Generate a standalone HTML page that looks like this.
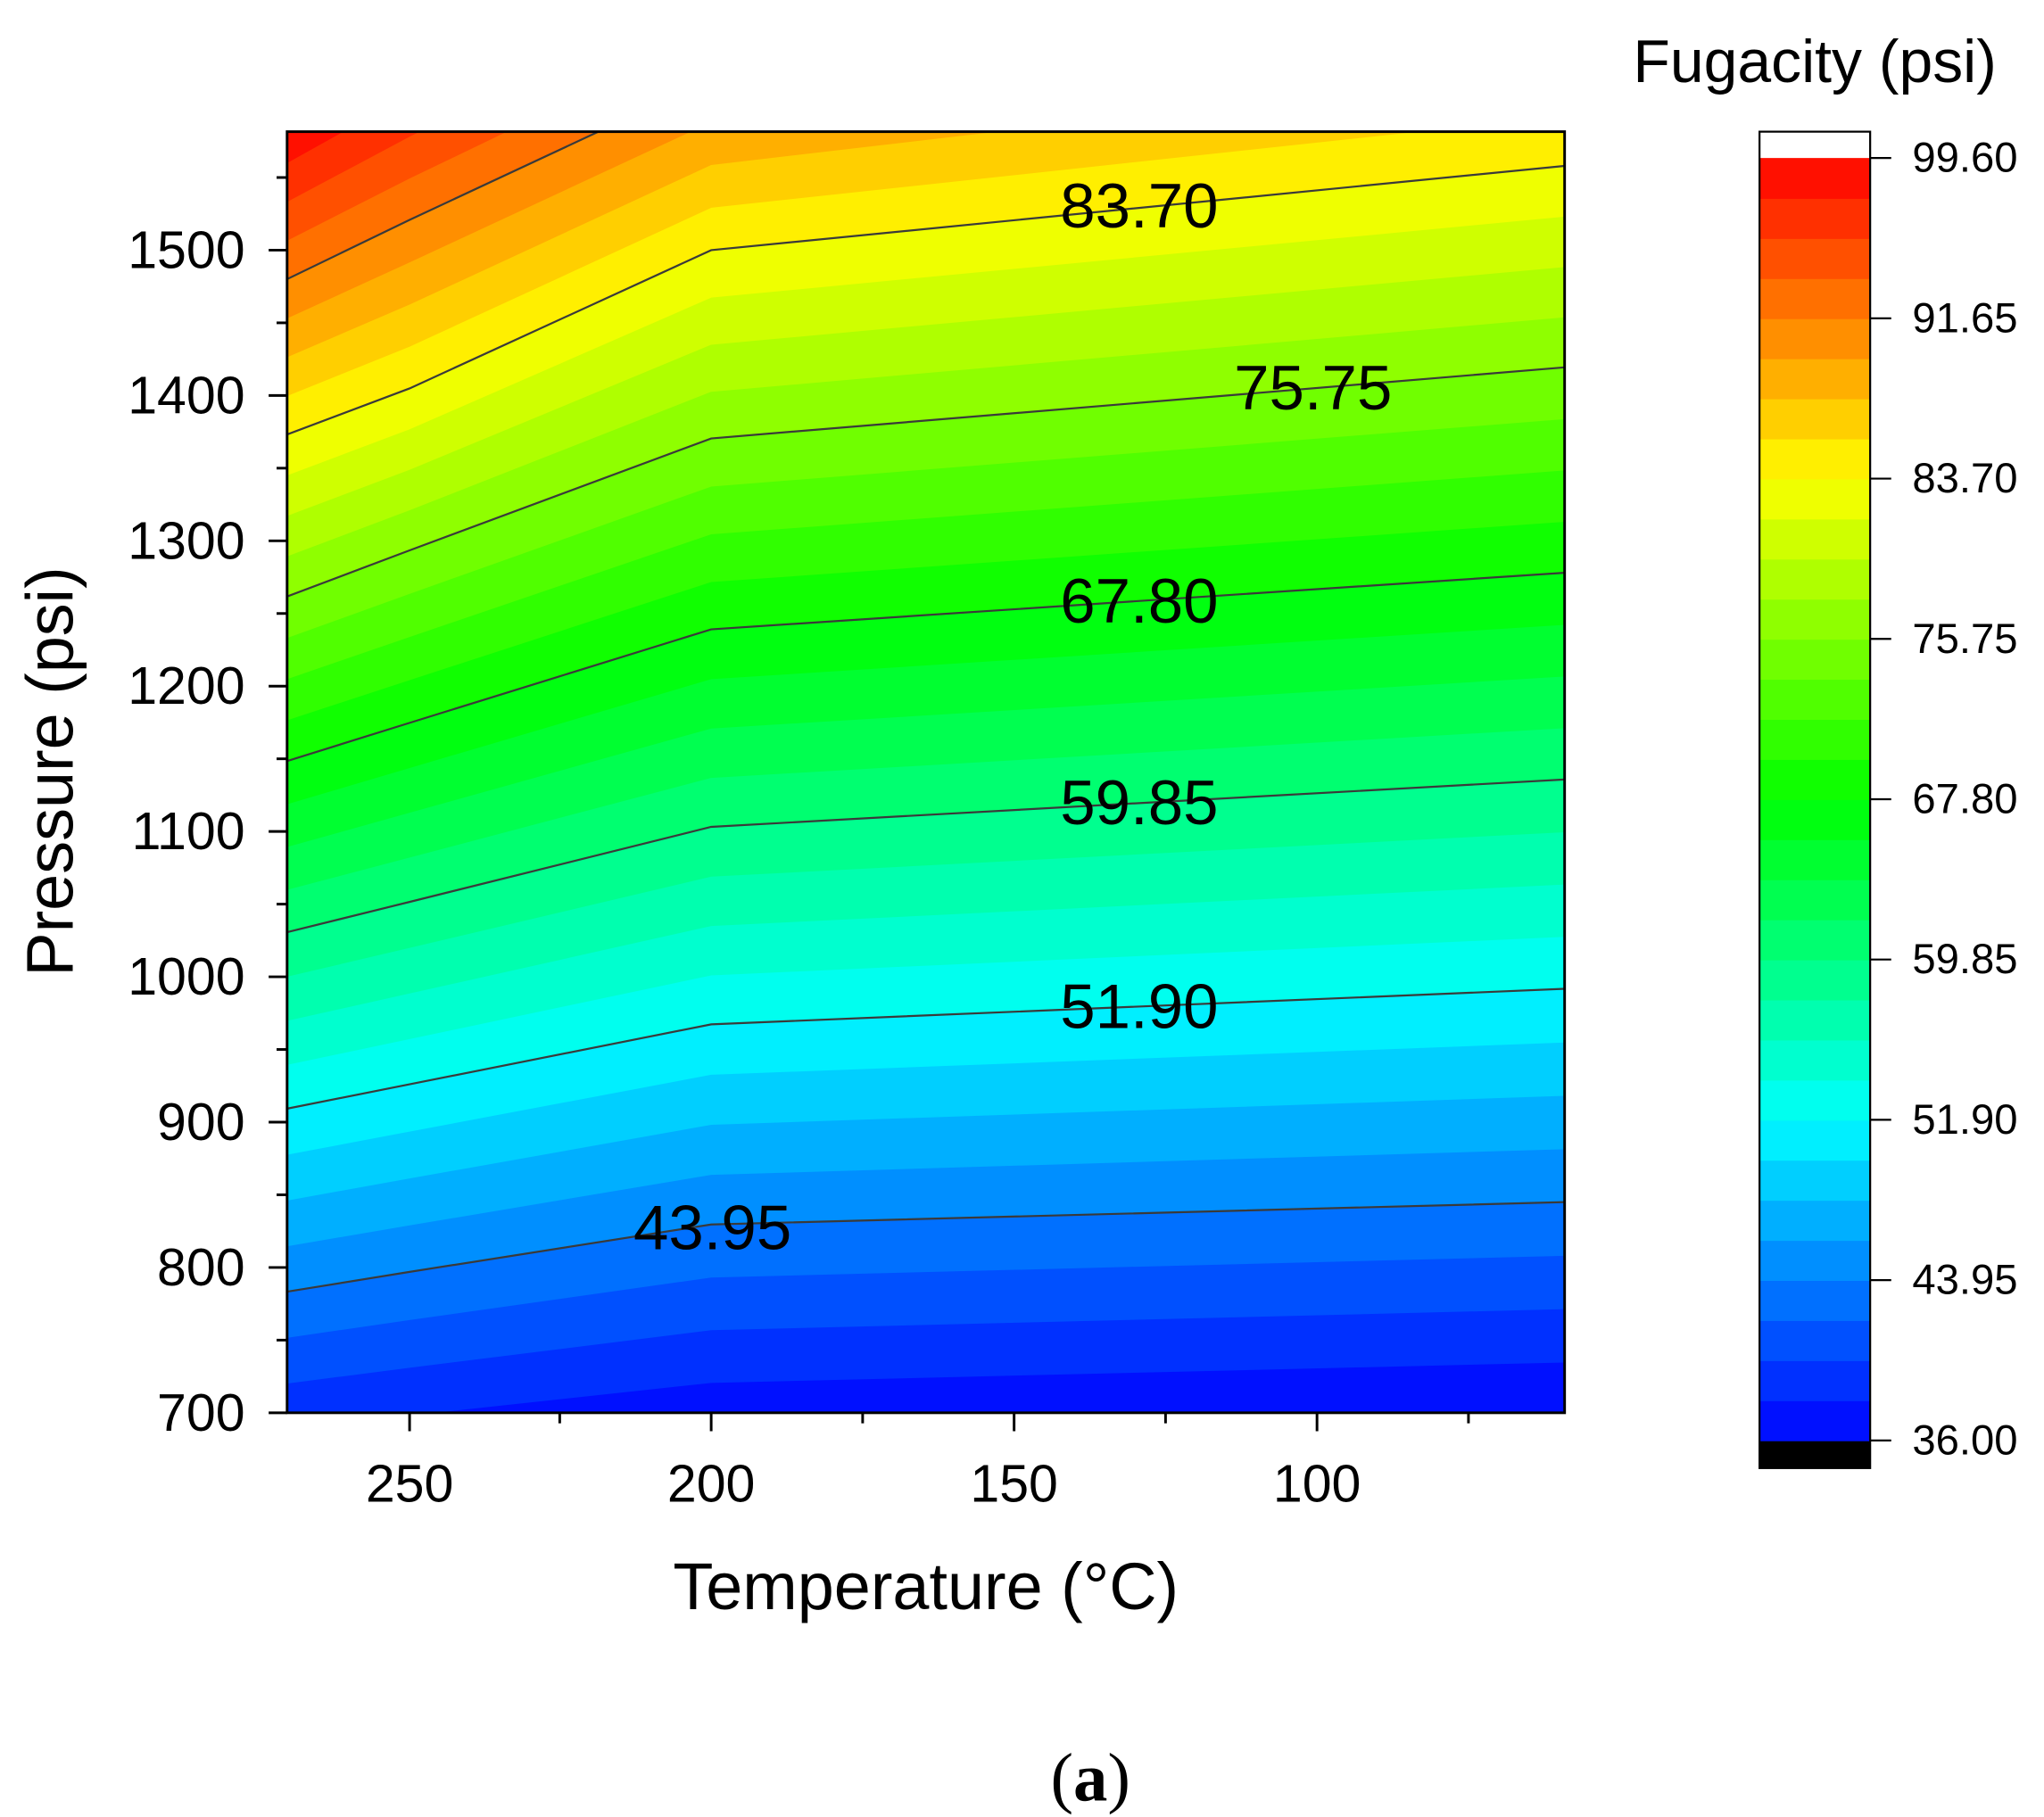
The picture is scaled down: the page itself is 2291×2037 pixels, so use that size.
<!DOCTYPE html>
<html><head><meta charset="utf-8"><style>
html,body{margin:0;padding:0;background:#fff}
svg{display:block}
text{font-family:"Liberation Sans",Arial,sans-serif;fill:#000}
</style></head><body>
<svg id="s" width="2291" height="2037" viewBox="0 0 1552 1380" preserveAspectRatio="none" xmlns="http://www.w3.org/2000/svg">
<defs>
<clipPath id="pc"><rect x="218" y="100" width="970" height="973"/></clipPath>
<linearGradient id="cb" x1="0" y1="1" x2="0" y2="0"></linearGradient>
</defs>
<rect x="218" y="100" width="970" height="973" fill="#0000ff"/>
<g id="bands" clip-path="url(#pc)"></g>
<g id="lines" clip-path="url(#pc)" fill="none" stroke="#3a3a3a" stroke-width="1.5"></g>
<g font-size="48" text-anchor="middle" dominant-baseline="central">
<text x="865" y="157">83.70</text>
<text x="997" y="295">75.75</text>
<text x="865" y="457">67.80</text>
<text x="865" y="610">59.85</text>
<text x="865" y="765">51.90</text>
<text x="541" y="933">43.95</text>
</g>
<rect x="218" y="100" width="970" height="973" fill="none" stroke="#000" stroke-width="2"/>
<g id="ticks" stroke="#000" stroke-width="2"></g>
<g id="ylab" font-size="40" text-anchor="end" dominant-baseline="central"></g>
<g font-size="40" text-anchor="middle" dominant-baseline="central">
<text x="311" y="1127">250</text><text x="540" y="1127">200</text><text x="770" y="1127">150</text><text x="1000" y="1127">100</text>
</g>
<text x="703" y="1205" font-size="50" text-anchor="middle" dominant-baseline="central">Temperature (°C)</text>
<text transform="translate(38,586) rotate(-90)" font-size="50" text-anchor="middle" dominant-baseline="central">Pressure (psi)</text>
<text x="1378" y="47" font-size="46" text-anchor="middle" dominant-baseline="central">Fugacity (psi)</text>
<g id="cbar"></g>
<rect x="1336" y="100" width="84" height="1015" fill="none" stroke="#000" stroke-width="1.5"/>
<g id="cbt" font-size="32" dominant-baseline="central"></g>
<text x="828" y="1350" font-size="52" text-anchor="middle" dominant-baseline="central" style="font-family:'Liberation Serif',serif">(<tspan font-weight="bold">a</tspan>)</text>
</svg>
<script>
var NS="http://www.w3.org/2000/svg";
function el(p,t,a,txt){var e=document.createElementNS(NS,t);for(var k in a)e.setAttribute(k,a[k]);if(txt!==undefined)e.textContent=txt;p.appendChild(e);return e;}
var X=[218,311,540,1188];
var Y=[[1120,981,842,708,578,453,330,212,94],
       [1111,966,823.5,685,549,418,295,167,40],
       [1090,930,778,628,478,333,190,60,-80],
       [1075,913,751,592,435,279,126,-27,-180]];
function yAt(c,v){var f=(v-36)/7.95;if(f<0)f=0;var i=Math.floor(f);if(i>=8){i=7;}var r=f-i;return Y[c][i]+(Y[c][i+1]-Y[c][i])*r;}
function col(v){var t=(v-36)/63.6;t=Math.max(0,Math.min(1,t));var r,g,b;
 if(t<0.25){r=0;g=t/0.25;b=1;}else if(t<0.5){r=0;g=1;b=1-(t-0.25)/0.25;}else if(t<0.75){r=(t-0.5)/0.25;g=1;b=0;}else{r=1;g=1-(t-0.75)/0.25;b=0;}
 return "rgb("+Math.round(r*255)+","+Math.round(g*255)+","+Math.round(b*255)+")";}
var bands=document.getElementById("bands");var step=7.95/4;
for(var k=0;k<32;k++){var a=36+k*step,b=a+step;var pts=[];
 for(var c=0;c<4;c++)pts.push(X[c]+","+(k==31?-1000:yAt(c,b)));
 for(var c=3;c>=0;c--)pts.push(X[c]+","+(k==0?1200:yAt(c,a)));
 el(bands,"polygon",{points:pts.join(" "),fill:col((a+b)/2),stroke:col((a+b)/2),"stroke-width":"0.6"});}
var lines=document.getElementById("lines");
for(var i=1;i<=7;i++){var p=[];for(var c=0;c<4;c++)p.push(X[c]+","+Y[c][i]);el(lines,"polyline",{points:p.join(" ")});}
var tk=document.getElementById("ticks"),yl=document.getElementById("ylab");
for(var v=700;v<=1580;v+=50){var y=1073-(v-700)*1.10375;var maj=(v%100==0);
 el(tk,"line",{x1:maj?204:210,x2:218,y1:y,y2:y});
 if(maj)el(yl,"text",{x:186,y:y},String(v));}
[311,540,770,1000].forEach(function(x){el(tk,"line",{x1:x,x2:x,y1:1073,y2:1087});});
[425,655,885,1115].forEach(function(x){el(tk,"line",{x1:x,x2:x,y1:1073,y2:1081});});
var cb=document.getElementById("cbar");
el(cb,"rect",{x:1336,y:100,width:84,height:20,fill:"#fff"});
el(cb,"rect",{x:1336,y:1094,width:84,height:21,fill:"#000"});
var h=(1094-120)/32;
for(var k=0;k<32;k++){var v=36+(k+0.5)*step;el(cb,"rect",{x:1336,y:1094-(k+1)*h,width:84,height:h+0.6,fill:col(v)});}
var cbt=document.getElementById("cbt");
var labs=["99.60","91.65","83.70","75.75","67.80","59.85","51.90","43.95","36.00"];
for(var i=0;i<9;i++){var y=120+i*121.75;el(cb,"line",{x1:1420,x2:1436,y1:y,y2:y,stroke:"#000","stroke-width":"1.5"});el(cbt,"text",{x:1452,y:y},labs[i]);}
</script>
</body></html>
